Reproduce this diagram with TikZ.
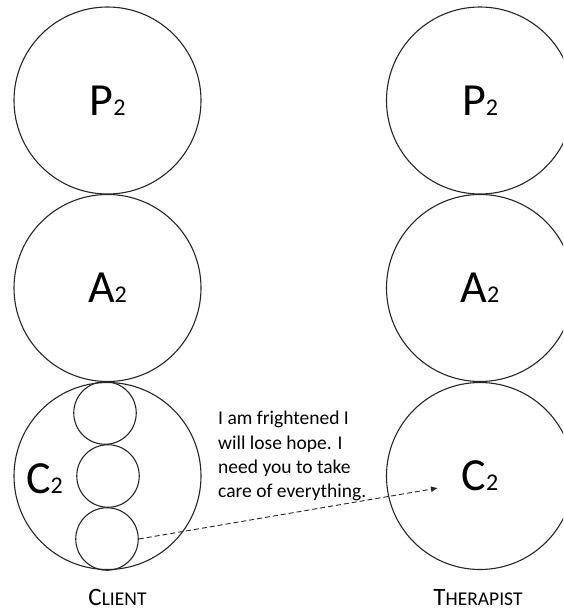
\documentclass[tikz,border=0pt]{standalone}
\usepackage{fontspec}
\setmainfont{Carlito}
\usetikzlibrary{arrows.meta}
\newcommand\subtwo{{\fontsize{24}{24}\selectfont 2}}
\newcommand\smc[2]{{\fontsize{25}{25}\selectfont #1\fontsize{19.5}{19.5}\selectfont #2}}
\begin{document}
\begin{tikzpicture}[x=1pt,y=-1pt,
  ring/.style={circle,draw=black!85,line width=1.1pt,minimum size=187pt,inner sep=0pt,font=\fontsize{46}{50}\selectfont},
  smallring/.style={circle,draw=black!85,line width=1.1pt,minimum size=62.5pt,inner sep=0pt},
  lbl/.style={inner sep=0pt,font=\fontsize{46}{50}\selectfont},
  caption/.style={inner sep=0pt,anchor=base},
  msgtext/.style={inner sep=0pt,align=left,font=\fontsize{19.5}{24.4}\selectfont},
  flow/.style={draw=black!85,line width=0.9pt,dash pattern=on 5pt off 3pt,-{Latex[length=7pt,width=6pt]}}]
\useasboundingbox (0,0) rectangle (563,611);
\begin{scope}
\clip (0,0) rectangle (563,611);
% client
\node[ring] (cp) at (107.5,100.5) {P\subtwo};
\node[ring] (ca) at (107.5,288) {A\subtwo};
\node[ring] (cc) at (107.5,476) {};
\node[smallring] (s1) at (105,413) {};
\node[smallring] (s2) at (108,476) {};
\node[smallring] (s3) at (107,539) {};
% therapist
\node[ring] (tp) at (480,100.5) {P\subtwo};
\node[ring] (ta) at (480,288) {A\subtwo};
\node[ring] (tc) at (480,476) {C\subtwo};
\end{scope}
\node[lbl] (ccl) at (44.5,478.5) {C\subtwo};
% message
\node[msgtext,anchor=north west] (msg) at (218,411) {I am frightened I\\will lose hope. I\\need you to take\\care of everything.};
\coordinate (tip) at (438,488);
\draw[flow] (s3.east) -- (tip);
% captions
\node[caption] (client) at (117.5,605) {\smc{C}{LIENT}};
\node[caption] (therapist) at (478,605) {\smc{T}{HERAPIST}};
\end{tikzpicture}
\end{document}
